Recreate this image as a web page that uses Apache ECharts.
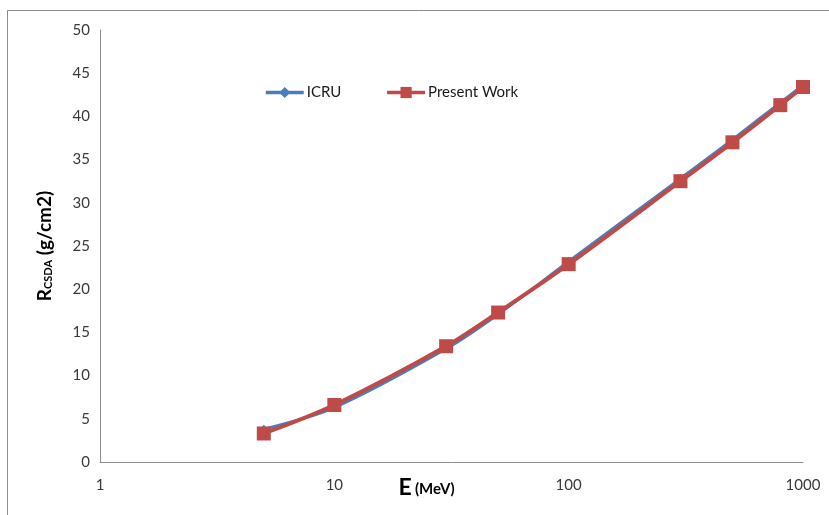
<!DOCTYPE html>
<html><head><meta charset="utf-8">
<script src="https://cdn.jsdelivr.net/npm/echarts@6/dist/echarts.min.js"></script>
<style>html,body{margin:0;padding:0;background:#fff}#c{width:829px;height:515px}</style>
</head><body><div id="c"></div>
<script>
var energies = [5, 10, 30, 50, 100, 300, 500, 800, 1000];
var icru = [3.8, 6.3, 13.1, 17.1, 23.2, 32.8, 37.3, 41.6, 43.6];
var presentWork = [3.3, 6.6, 13.4, 17.3, 22.9, 32.5, 37.0, 41.3, 43.4];
var yTicks = [0, 50, 5];
var xTicks = [1, 1000];
var font = 'Lato, "Noto Sans", sans-serif';
function pairs(xs, ys){ return xs.map(function(x,i){return [x, ys[i]];}); }
var chart = echarts.init(document.getElementById('c'));
chart.setOption({
  animation: false,
  backgroundColor: '#fff',
  graphic: [{type:'rect', shape:{x:7.5, y:10.5, width:900, height:600}, style:{fill:'none', stroke:'#8c8c8c', lineWidth:1}}],
  grid: {left:100, right:26, top:30, bottom:53, containLabel:false, outerBoundsMode:'none'},
  legend: {
    left: 259, top: 80, itemWidth: 38, itemHeight: 14, itemGap: 44,
    lineStyle: {width: 3.5},
    textStyle: {fontFamily: font, fontSize: 15, color: '#1a1a1a', padding:[0,0,0,-2]},
    data: ['ICRU', 'Present Work']
  },
  xAxis: {
    type: 'log', logBase: 10, min: xTicks[0], max: xTicks[1],
    axisLine: {lineStyle: {color: '#8c8c8c'}},
    axisTick: {show: false}, splitLine: {show: false}, minorTick:{show:false},
    axisLabel: {fontFamily: font, fontSize: 15, color: '#3a3a3a', margin: 16, formatter: function(v){return String(v);}},
    name: '{e|E} {m|(MeV)}', nameLocation: 'middle', nameGap: 14, nameMoveOverlap: false,
    nameTextStyle: {padding: [0, 50, 0, 0], rich: {
      e: {fontFamily: font, fontSize: 23, fontWeight: 'bold', color: '#000'},
      m: {fontFamily: font, fontSize: 15, fontWeight: 'bold', color: '#000', padding:[4,0,0,0]}
    }}
  },
  yAxis: {
    type: 'value', min: yTicks[0], max: yTicks[1], interval: yTicks[2],
    axisLine: {show: true, lineStyle: {color: '#8c8c8c'}},
    axisTick: {show: false}, splitLine: {show: false},
    axisLabel: {fontFamily: font, fontSize: 15, color: '#3a3a3a', margin: 10},
    name: '{r|R}{s|CSDA}{t| (g/cm2)}', nameLocation: 'middle', nameGap: 46, nameMoveOverlap: false,
    nameTextStyle: {rich: {
      r: {fontFamily: font, fontSize: 19, fontWeight: 'bold', color: '#000'},
      s: {fontFamily: font, fontSize: 11, fontWeight: 'bold', color: '#000', padding:[8,0,0,0]},
      t: {fontFamily: font, fontSize: 19, fontWeight: 'bold', color: '#000'}
    }}
  },
  series: [
    {name: 'ICRU', type: 'line', smooth: 0.3, data: pairs(energies, icru),
     symbol: 'diamond', symbolSize: 9,
     lineStyle: {color: '#4A7EBB', width: 3}, itemStyle: {color: '#4A7EBB'}, z: 2},
    {name: 'Present Work', type: 'line', smooth: 0.3, data: pairs(energies, presentWork),
     symbol: 'rect', symbolSize: 14,
     lineStyle: {color: '#BE4B48', width: 4}, itemStyle: {color: '#BE4B48'}, z: 3}
  ]
});
</script></body></html>
